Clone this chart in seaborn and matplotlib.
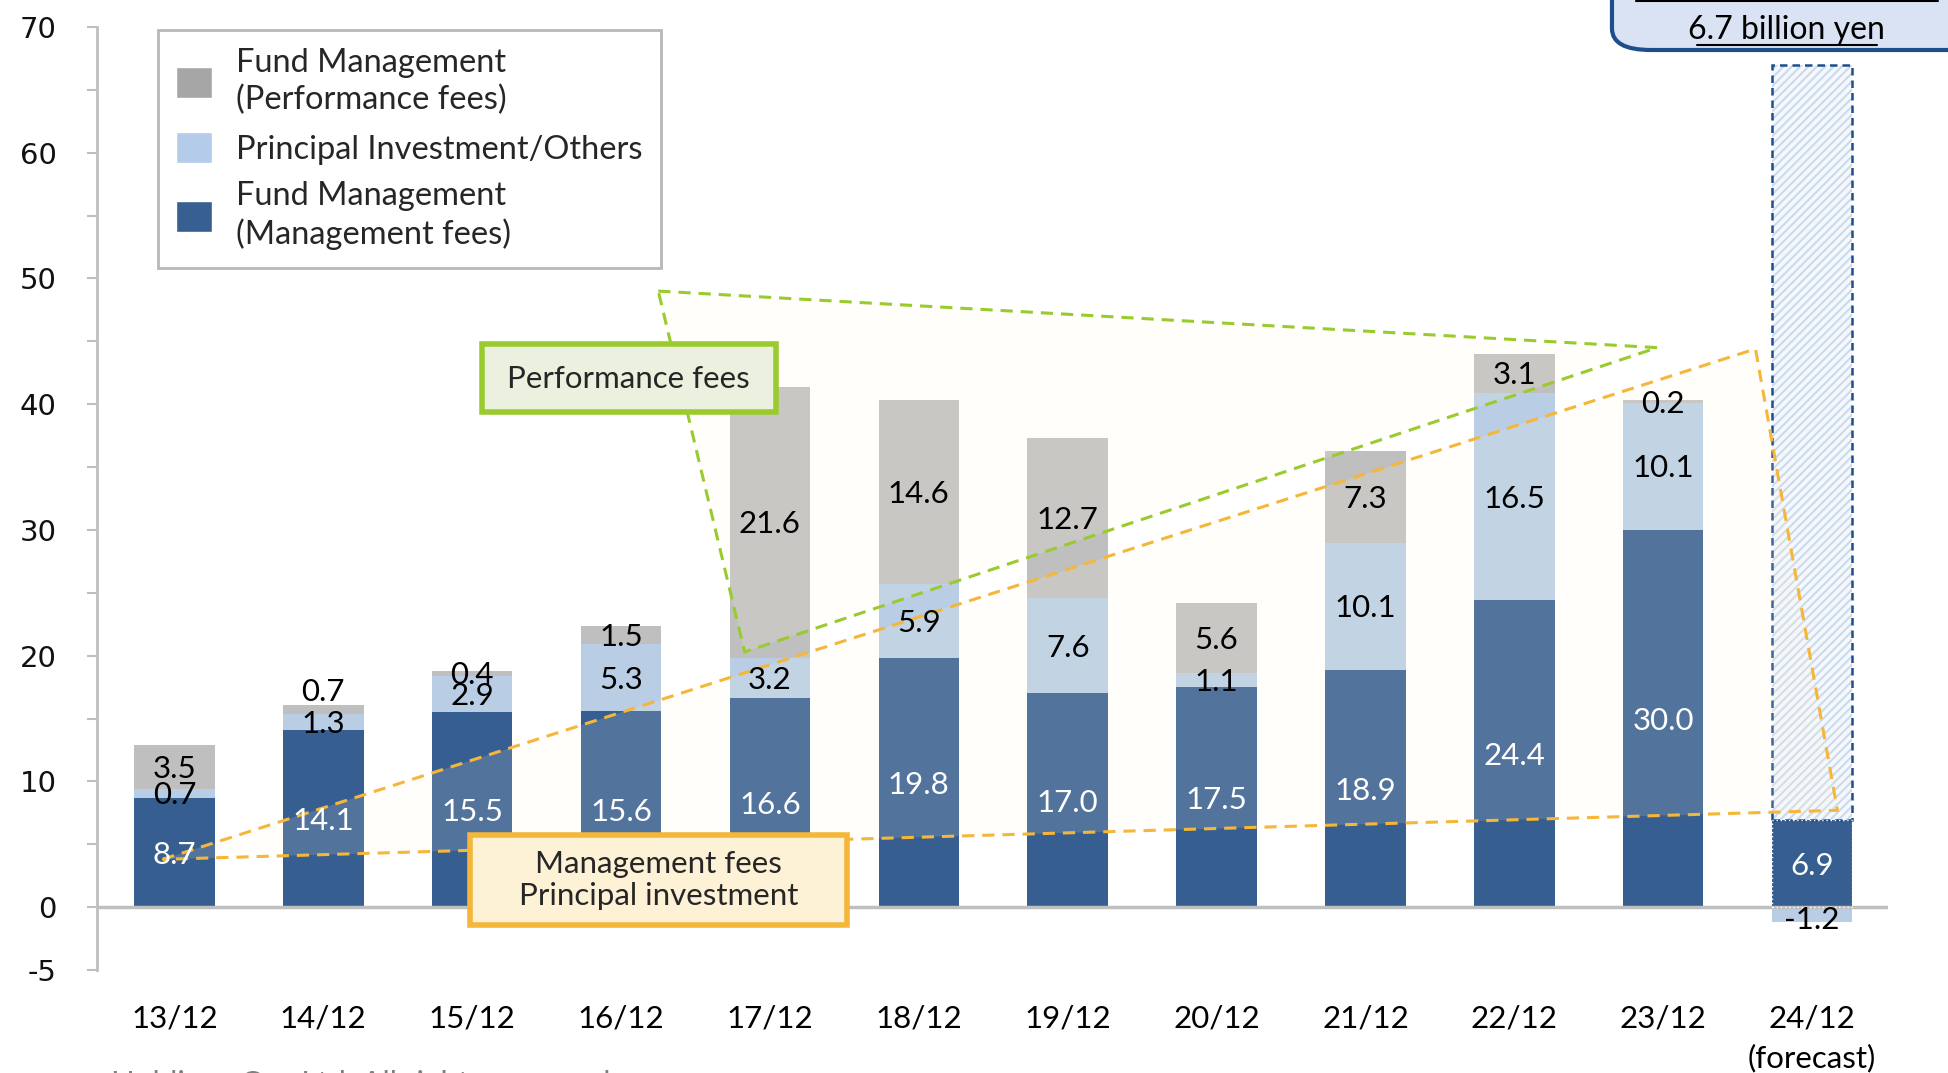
import numpy as np
import matplotlib.pyplot as plt
import seaborn as sns
from matplotlib.patches import Patch, Polygon, FancyBboxPatch, Rectangle
from matplotlib.colors import to_rgba

# Data (billion yen)
years = ['13/12', '14/12', '15/12', '16/12', '17/12', '18/12', '19/12',
         '20/12', '21/12', '22/12', '23/12', '24/12\n(forecast)']
mgmt_fees = [8.7, 14.1, 15.5, 15.6, 16.6, 19.8, 17.0, 17.5, 18.9, 24.4, 30.0, 6.9]
principal = [0.7, 1.3, 2.9, 5.3, 3.2, 5.9, 7.6, 1.1, 10.1, 16.5, 10.1, -1.2]
perf_fees = [3.5, 0.7, 0.4, 1.5, 21.6, 14.6, 12.7, 5.6, 7.3, 3.1, 0.2, 0.0]
forecast_top = 67.0
ytick_vals = list(range(-5, 75, 5))
ytick_labels = ['-5', '0', '', '10', '', '20', '', '30', '', '40', '', '50', '', '60', '', '70']

c_mgmt = '#365E91'
c_prin = '#B9CDE5'
c_perf = '#BFBFBF'

sns.set_theme(style='white')
plt.rcParams['font.family'] = ['Lato', 'DejaVu Sans']
plt.rcParams['hatch.linewidth'] = 1.5

mgmt = np.array(mgmt_fees)
prin = np.array(principal)
perf = np.array(perf_fees)
prin_bottom = np.where(prin >= 0, mgmt, 0)
perf_bottom = mgmt + np.clip(prin, 0, None)
totals = perf_bottom + perf

fig = plt.figure(figsize=(19.48, 10.73), dpi=100)
ax = fig.add_axes([0.0498, 0.096, 0.9194, 0.8788])

bw = 0.54
sns.barplot(x=years, y=mgmt_fees, color=c_mgmt, saturation=1, width=bw,
            errorbar=None, linewidth=0, ax=ax, zorder=2)
sns.barplot(x=years, y=principal, bottom=prin_bottom, color=c_prin, saturation=1,
            width=bw, errorbar=None, linewidth=0, ax=ax, zorder=2)
sns.barplot(x=years, y=perf_fees, bottom=perf_bottom, color=c_perf, saturation=1,
            width=bw, errorbar=None, linewidth=0, ax=ax, zorder=2)

# forecast placeholder box
i_fc = len(years) - 1
ax.bar(i_fc, forecast_top - mgmt[-1], bottom=mgmt[-1], width=bw, facecolor='#F5F8FC',
       hatch='////', edgecolor='#CCDAEC', linewidth=0, zorder=2)
ax.bar(i_fc, forecast_top - mgmt[-1], bottom=mgmt[-1], width=bw, fill=False,
       edgecolor='#1F4E8C', linestyle=(0, (3, 2)), linewidth=1.8, zorder=3)
ax.bar(i_fc, mgmt[-1], width=bw, fill=False, edgecolor='white',
       linestyle=(0, (1, 2)), linewidth=1, zorder=3)

ax.axhline(0, color='#BFBFBF', lw=2.5, zorder=2.5)

# highlight triangles
orange = '#F4B73A'
green = '#9ACB2E'
tri_orange = [(-0.08, 3.8), (10.62, 44.4), (11.17, 7.7)]
tri_green = [(3.25, 49.0), (9.96, 44.5), (3.83, 20.3)]
for pts, col in [(tri_orange, orange), (tri_green, green)]:
    ax.add_patch(Polygon(pts, closed=True, facecolor=to_rgba('#FFF8E2', 0.14),
                         edgecolor='none', zorder=3))
for pts, col in [(tri_orange, orange), (tri_green, green)]:
    ax.add_patch(Polygon(pts, closed=True, fill=False, edgecolor=col, lw=2.2,
                         linestyle=(0, (4, 2.6)), zorder=4))

# value labels
fs = 22.5
for i in range(len(years)):
    ax.text(i, mgmt[i] / 2 - 0.2, f'{mgmt[i]:.1f}', ha='center', va='center',
            color='white', fontsize=fs, zorder=5)
    if prin[i] >= 0:
        yp = prin_bottom[i] + prin[i] / 2
    else:
        yp = prin[i] * 0.75
    ax.text(i, yp - 0.15, f'{prin[i]:.1f}', ha='center', va='center', color='black',
            fontsize=fs, zorder=5)
    if perf[i] > 0:
        yf = perf_bottom[i] + perf[i] / 2
        if i == 1:
            yf = totals[i] + 1.2
        ax.text(i, yf - 0.15, f'{perf[i]:.1f}', ha='center', va='center', color='black',
                fontsize=fs, zorder=5)

# callout boxes
ax.add_patch(Rectangle((2.067, 39.4), 1.975, 5.4, facecolor='#EBF1DE',
                       edgecolor=green, linewidth=4, zorder=6))
ax.text(3.05, 42.0, 'Performance fees', ha='center', va='center', fontsize=fs,
        zorder=7)
ax.add_patch(Rectangle((1.983, -1.45), 2.534, 7.2, facecolor='#FDF1D6',
                       edgecolor=orange, linewidth=4, zorder=6))
ax.text(3.25, 2.15, 'Management fees\nPrincipal investment', ha='center', va='center',
        fontsize=fs, linespacing=1.2, zorder=7)

# legend
handles = [Patch(facecolor='#A6A6A6', label='Fund Management\n(Performance fees)'),
           Patch(facecolor='#B4CCEA', label='Principal Investment/Others'),
           Patch(facecolor='#375F92', label='Fund Management\n(Management fees)')]
leg = ax.legend(handles=handles, loc='upper left', bbox_to_anchor=(0.034, 0.997),
                borderaxespad=0, fontsize=23.5, frameon=True, fancybox=False,
                handlelength=1.1, handleheight=1.1, labelspacing=0.5,
                handletextpad=0.75, borderpad=0.55)
leg.get_frame().set_edgecolor('#A6A6A6')
leg.get_frame().set_linewidth(2)
leg.set_zorder(8)
for t in leg.get_texts():
    t.set_linespacing(1.3)

# axes styling
ax.set_xlim(-0.52, len(years) - 0.49)
ax.set_ylim(-5, 70)
ax.set_yticks(ytick_vals)
ax.set_yticklabels(ytick_labels, fontfamily='DejaVu Sans', fontsize=21, color='#111111')
ax.tick_params(axis='y', left=True, length=7, width=1.5, color='#BFBFBF', pad=22)
ax.tick_params(axis='x', length=0, pad=25, labelsize=fs, labelcolor='black')
for lab in ax.get_xticklabels():
    lab.set_linespacing(1.45)
ax.set_xlabel('')
ax.set_ylabel('')
for s in ['top', 'right', 'bottom']:
    ax.spines[s].set_visible(False)
ax.spines['left'].set_color('#BFBFBF')
ax.spines['left'].set_linewidth(2)
ax.grid(False)

# forecast callout (top right, cut off by the frame)
fig.patches.append(FancyBboxPatch((0.8275, 0.9534), 0.2, 0.08,
                                  boxstyle='round,pad=0,rounding_size=0.02',
                                  transform=fig.transFigure, facecolor='#DAE3F3',
                                  edgecolor='#1F4E8C', linewidth=3, zorder=8))
fig.text(0.917, 0.972, '6.7 billion yen', ha='center', va='center', fontsize=23,
         color='black', zorder=9)
fig.add_artist(plt.Line2D([0.871, 0.9635], [0.958, 0.958], transform=fig.transFigure,
                          color='black', lw=1.5, zorder=9))
fig.add_artist(plt.Line2D([0.840, 0.995], [0.999, 0.999], transform=fig.transFigure,
                          color='black', lw=1.5, zorder=9))

fig.text(0.057, 1 - 1070 / 1073, 'Holdings Co., Ltd. All rights reserved.',
         ha='left', va='top', fontsize=fs, color='#808080')

fig.savefig('out.png', dpi=100)
